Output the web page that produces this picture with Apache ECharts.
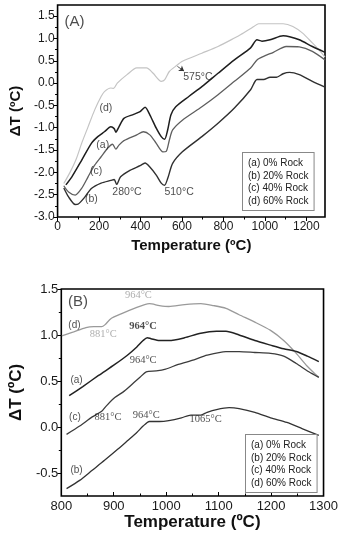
<!DOCTYPE html>
<html>
<head>
<meta charset="utf-8">
<script src="https://cdn.jsdelivr.net/npm/echarts@6/dist/echarts.min.js"></script>
<style>
  html, body { margin: 0; padding: 0; background: #fff; }
  #chart { width: 341px; height: 536px; }
</style>
</head>
<body>
<div id="chart"></div>
<script>
// ---- panel A : 0 - 1300 °C ----
const seriesNames = ["(a) 0% Rock", "(b) 20% Rock", "(c) 40% Rock", "(d) 60% Rock"];

const dtaA_a = [[40,-2.28],[69,-2.1],[116,-1.73],[163,-1.35],[194,-1.2],[226,-1.09],[257,-0.98],[273,-1.02],[281,-1.1],[296,-0.98],[320,-0.79],[367,-0.7],[398,-0.64],[422,-0.54],[445,-0.71],[476,-1.01],[500,-1.2],[516,-1.26],[531,-1.05],[547,-0.71],[570,-0.53],[633,-0.3],[696,-0.08],[774,0.22],[853,0.52],[931,0.79],[962,0.97],[986,0.94],[1025,0.97],[1088,1.06],[1119,1.04],[1166,0.97],[1229,0.82],[1290,0.69]];
const dtaA_b = [[30,-2.35],[53,-2.55],[85,-2.72],[100,-2.71],[132,-2.55],[163,-2.36],[210,-2.24],[257,-2.18],[273,-2.16],[285,-2.27],[304,-2.1],[351,-1.95],[398,-1.85],[422,-1.79],[445,-1.88],[476,-2.06],[500,-2.24],[516,-2.29],[531,-2.14],[555,-1.8],[602,-1.54],[696,-1.2],[774,-0.9],[853,-0.56],[931,-0.15],[962,0.08],[994,0.08],[1025,0.13],[1056,0.13],[1088,0.21],[1119,0.24],[1166,0.19],[1229,0.04],[1290,-0.09]];
const dtaA_c = [[30,-2.3],[53,-2.44],[85,-2.51],[116,-2.36],[147,-2.1],[179,-1.84],[210,-1.65],[241,-1.46],[265,-1.37],[281,-1.48],[296,-1.39],[320,-1.29],[382,-1.16],[414,-1.09],[445,-1.16],[476,-1.35],[508,-1.54],[524,-1.53],[539,-1.28],[555,-1.05],[602,-0.83],[696,-0.53],[774,-0.26],[853,0.04],[931,0.34],[962,0.52],[994,0.6],[1041,0.69],[1103,0.82],[1166,0.81],[1229,0.71],[1290,0.52]];
const dtaA_d = [[30,-2.25],[60,-2.0],[90,-1.7],[116,-1.35],[147,-0.98],[179,-0.6],[210,-0.3],[226,-0.19],[257,-0.11],[270,-0.12],[288,0.0],[335,0.19],[382,0.34],[429,0.34],[461,0.22],[500,0.04],[516,0.07],[539,0.26],[570,0.38],[602,0.49],[696,0.67],[774,0.82],[853,1.01],[884,1.09],[947,1.27],[970,1.33],[1009,1.33],[1088,1.33],[1135,1.27],[1182,1.12],[1229,0.9],[1260,0.75],[1290,0.58]];

const ticksA_x = [0, 200, 400, 600, 800, 1000, 1200];
const minorA_x = [100, 300, 500, 700, 900, 1100];
const ticksA_y = [-3, -2.5, -2, -1.5, -1, -0.5, 0, 0.5, 1, 1.5];
const minorA_y = [-2.75, -2.25, -1.75, -1.25, -0.75, -0.25, 0.25, 0.75, 1.25];

const annoA_text = ["(A)", "(d)", "(a)", "(c)", "(b)", "280°C", "510°C", "575°C"];
const annoA_at = [[82,1.38],[233,-0.56],[218,-1.39],[186,-1.97],[163,-2.59],[335,-2.44],[586,-2.44],[677,0.13]];
const arrowA = [[578,0.375],[610,0.27]];

// ---- panel B : 800 - 1300 °C ----
const dtaB_a = [[815,0.34],[841,0.44],[871,0.56],[902,0.68],[926,0.78],[944,0.87],[956,0.94],[964,0.97],[971,0.96],[987,0.94],[1005,0.94],[1035,0.97],[1066,1.02],[1096,1.04],[1114,1.04],[1139,1.0],[1169,0.94],[1199,0.89],[1224,0.85],[1248,0.82],[1269,0.77],[1291,0.71]];
const dtaB_b = [[810,-0.67],[835,-0.58],[859,-0.47],[883,-0.36],[908,-0.24],[926,-0.15],[944,-0.06],[956,0.01],[968,0.06],[987,0.06],[1005,0.07],[1029,0.1],[1047,0.13],[1066,0.13],[1078,0.16],[1096,0.19],[1120,0.21],[1139,0.2],[1169,0.16],[1199,0.1],[1230,0.05],[1260,-0.02],[1291,-0.09]];
const dtaB_c = [[810,-0.08],[835,0.01],[859,0.11],[877,0.17],[886,0.23],[902,0.32],[920,0.39],[938,0.48],[950,0.54],[962,0.6],[981,0.61],[999,0.63],[1023,0.68],[1053,0.73],[1078,0.78],[1114,0.82],[1139,0.82],[1169,0.81],[1199,0.8],[1224,0.77],[1248,0.69],[1272,0.6],[1291,0.54]];
const dtaB_d = [[801,0.99],[822,1.03],[847,1.08],[862,1.09],[877,1.09],[883,1.11],[895,1.18],[914,1.23],[944,1.3],[959,1.33],[968,1.34],[987,1.32],[1005,1.31],[1035,1.33],[1066,1.34],[1090,1.32],[1114,1.29],[1139,1.22],[1169,1.14],[1199,1.05],[1224,0.94],[1248,0.8],[1269,0.66],[1285,0.57],[1291,0.54]];

const ticksB_x = [800, 900, 1000, 1100, 1200, 1300];
const minorB_x = [850, 950, 1050, 1150, 1250];
const ticksB_y = [-0.5, 0, 0.5, 1, 1.5];
const minorB_y = [-0.25, 0.25, 0.75, 1.25];

const annoB_text = ["(B)", "964°C", "(d)", "881°C", "964°C", "964°C", "(a)", "(c)", "881°C", "964°C", "1065°C", "(b)"];
const annoB_at = [[832,1.36],[947,1.43],[825,1.11],[880,1.01],[956,1.09],[956,0.73],[829,0.51],[826,0.11],[889,0.11],[962,0.13],[1075,0.08],[829,-0.47]];

// styles
const SANS = "Liberation Sans";
const SERIF = "Liberation Serif";
const colorsA = { a: "#1e1e1e", b: "#303030", c: "#5e5e5e", d: "#c4c4c4" };
const colorsB = { a: "#222222", b: "#333333", c: "#3c3c3c", d: "#9a9a9a" };

// per-label look, by index (text data above stays plain)
const annoA_style = [
  { fontSize: 15, color: "#222" },
  {}, {}, {}, {}, {}, {}, {}
];
const annoB_style = [
  { fontSize: 15, color: "#222", fontFamily: SANS },
  { color: "#999" },
  { fontFamily: SANS, fontSize: 10 },
  { color: "#999" },
  { fontWeight: "bold" },
  {},
  { fontFamily: SANS, fontSize: 10 },
  { fontFamily: SANS, fontSize: 10 },
  {},
  {},
  {},
  { fontFamily: SANS, fontSize: 10 }
];

function majorX(grid, min, max, ticks, fs, inside, name, gap, nfs) {
  return {
    gridIndex: grid, type: "value", min: min, max: max, position: "bottom",
    axisLine: { show: false, onZero: false },
    axisTick: { show: true, inside: inside, length: 4, customValues: ticks, lineStyle: { color: "#000", width: 1 } },
    axisLabel: { customValues: ticks, fontFamily: SANS, fontSize: fs, color: "#1a1a1a", margin: 4,
      formatter: v => String(v) },
    splitLine: { show: false },
    name: name, nameLocation: "middle", nameGap: gap,
    nameTextStyle: { fontFamily: SANS, fontWeight: "bold", fontSize: nfs, color: "#111" }
  };
}
function minorX(grid, min, max, ticks, inside) {
  return {
    gridIndex: grid, type: "value", min: min, max: max, position: "bottom",
    axisLine: { show: false, onZero: false },
    axisTick: { show: true, inside: inside, length: 2.5, customValues: ticks, lineStyle: { color: "#000", width: 1 } },
    axisLabel: { show: false }, splitLine: { show: false }
  };
}
function majorY(grid, min, max, ticks, fs, name, gap, nfs) {
  return {
    gridIndex: grid, type: "value", min: min, max: max, position: "left",
    axisLine: { show: false, onZero: false },
    axisTick: { show: true, length: 4, customValues: ticks, lineStyle: { color: "#000", width: 1 } },
    axisLabel: { customValues: ticks, fontFamily: SANS, fontSize: fs, color: "#1a1a1a", margin: 3,
      formatter: v => v.toFixed(1) },
    splitLine: { show: false },
    name: name, nameLocation: "middle", nameGap: gap,
    nameTextStyle: { fontFamily: SANS, fontWeight: "bold", fontSize: nfs, color: "#111" }
  };
}
function minorY(grid, min, max, ticks) {
  return {
    gridIndex: grid, type: "value", min: min, max: max, position: "left",
    axisLine: { show: false, onZero: false },
    axisTick: { show: true, length: 2.5, customValues: ticks, lineStyle: { color: "#000", width: 1 } },
    axisLabel: { show: false }, splitLine: { show: false }
  };
}

function curve(data, color, xi, yi, width) {
  return {
    type: "line", data: data, xAxisIndex: xi, yAxisIndex: yi,
    showSymbol: false, smooth: 0.25,
    lineStyle: { color: color, width: width }, z: 3
  };
}

function labels(texts, at, styles, base, xi, yi) {
  return {
    type: "scatter", xAxisIndex: xi, yAxisIndex: yi, symbolSize: 0, z: 5,
    data: texts.map((t, i) => ({
      value: [at[i][0], at[i][1]], name: t,
      label: Object.assign({}, base, styles[i])
    })),
    label: { show: true, position: "inside", formatter: p => p.name },
    silent: true
  };
}

const legendText = seriesNames.join("\n");

const chart = echarts.init(document.getElementById("chart"), null, { renderer: "canvas" });
chart.setOption({
  animation: false,
  backgroundColor: "#fff",
  grid: [
    { left: 53, right: 16, top: 5, bottom: 319, show: true, borderColor: "#000", borderWidth: 1.6, backgroundColor: "transparent" },
    { left: 54, right: 12, top: 289, bottom: 40, show: true, borderColor: "#000", borderWidth: 1.6, backgroundColor: "transparent" }
  ],
  xAxis: [
    majorX(0, 0, 1290, ticksA_x, 12, false, "Temperature (ºC)", 21, 15),
    minorX(0, 0, 1290, minorA_x, false),
    majorX(1, 800, 1300, ticksB_x, 13, true, "Temperature (ºC)", 17, 17),
    minorX(1, 800, 1300, minorB_x, true)
  ],
  yAxis: [
    majorY(0, -3, 1.75, ticksA_y, 12, "ΔT (ºC)", 30, 15),
    minorY(0, -3, 1.75, minorA_y),
    majorY(1, -0.75, 1.5, ticksB_y, 13, "ΔT (ºC)", 31, 17),
    minorY(1, -0.75, 1.5, minorB_y)
  ],
  series: [
    curve(dtaA_d, colorsA.d, 0, 0, 1.2),
    curve(dtaA_c, colorsA.c, 0, 0, 1.3),
    curve(dtaA_b, colorsA.b, 0, 0, 1.4),
    Object.assign(curve(dtaA_a, colorsA.a, 0, 0, 1.5), {
      markLine: {
        silent: true, symbol: ["none", "arrow"], symbolSize: 5,
        lineStyle: { color: "#333", width: 0.8, type: "solid" },
        label: { show: false },
        data: [[{ coord: arrowA[0] }, { coord: arrowA[1] }]]
      }
    }),
    labels(annoA_text, annoA_at, annoA_style,
      { fontFamily: SANS, fontSize: 10.5, color: "#222" }, 0, 0),

    curve(dtaB_d, colorsB.d, 2, 2, 1.3),
    curve(dtaB_c, colorsB.c, 2, 2, 1.3),
    curve(dtaB_b, colorsB.b, 2, 2, 1.3),
    curve(dtaB_a, colorsB.a, 2, 2, 1.5),
    labels(annoB_text, annoB_at, annoB_style,
      { fontFamily: SERIF, fontSize: 10.5, color: "#222" }, 2, 2)
  ],
  graphic: [
    {
      type: "text", left: 242, top: 152, z: 10,
      style: {
        text: legendText, font: "10px " + SANS, fill: "#222", lineHeight: 12.5,
        backgroundColor: "#fff", borderColor: "#888", borderWidth: 1, padding: [4, 5, 3, 5]
      }
    },
    {
      type: "text", left: 245, top: 434, z: 10,
      style: {
        text: legendText, font: "10px " + SANS, fill: "#222", lineHeight: 12.5,
        backgroundColor: "#fff", borderColor: "#888", borderWidth: 1, padding: [4, 5, 3, 5]
      }
    }
  ]
});
</script>
</body>
</html>
